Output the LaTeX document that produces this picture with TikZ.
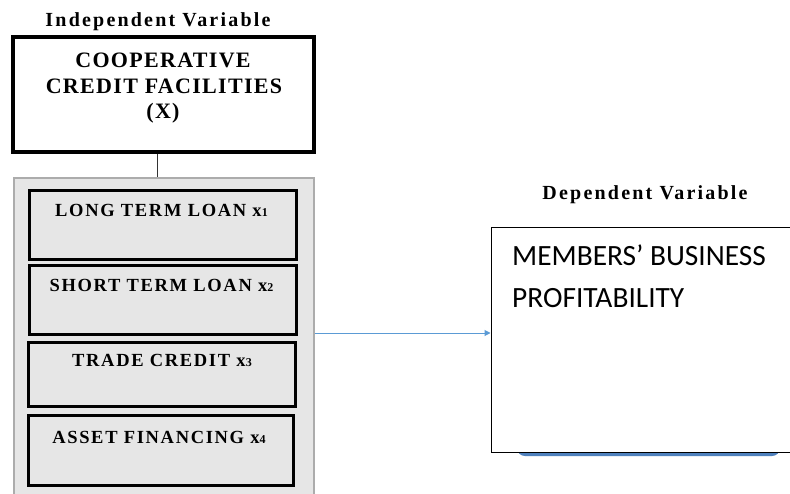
\documentclass[tikz,border=0pt]{standalone}
\usepackage{fontspec}
\setmainfont{Liberation Serif}
\newfontfamily\calib{Carlito}
\newfontfamily\trackA[LetterSpace=11]{Liberation Serif}
\newfontfamily\trackC[LetterSpace=9]{Liberation Serif}
\newfontfamily\trackB[LetterSpace=6]{Liberation Serif}
\usetikzlibrary{arrows.meta}
\definecolor{arrowblue}{HTML}{5B9BD5}
\definecolor{shadowblue}{HTML}{4F81BD}
\definecolor{panelgray}{HTML}{E6E6E6}
\begin{document}
\begin{tikzpicture}[x=1pt,y=-1pt,
  heading/.style={font=\trackA\bfseries\fontsize{20}{23}\selectfont, anchor=base, inner sep=0},
  toptext/.style={font=\trackB\bfseries\fontsize{22}{26}\selectfont, anchor=base, inner sep=0},
  vartext/.style={font=\trackC\bfseries\fontsize{18.5}{21}\selectfont, anchor=base, inner sep=0},
  varbox/.style={draw, line width=3pt, fill=panelgray, inner sep=0, minimum width=267pt},
  depline/.style={font=\calib\fontsize{29.4}{34}\selectfont, anchor=base west, inner sep=0}]
\useasboundingbox (0,0) rectangle (790,493);
\clip (0,0) rectangle (790,493);
\fill[white] (0,0) rectangle (790,493);
\newcommand{\sm}[1]{{\fontsize{12}{12}\selectfont #1}}

% independent side
\node[heading] (indep) at (158,26) {Independent Variable};
\node[draw, line width=3.5pt, inner sep=0, minimum width=301pt, minimum height=115pt] (cx) at (163.5,94.5) {};
\node[toptext] (c1) at (163,67) {COOPERATIVE};
\node[toptext] (c2) at (164,93) {CREDIT FACILITIES};
\node[toptext] (c3) at (163,118) {(X)};

\node[draw=gray!65, line width=2pt, fill=panelgray, inner sep=0, minimum width=300pt, minimum height=322pt] (panel) at (163.5,339) {};
\coordinate (jx) at (157,0);
\draw[line width=1pt, black!80] (cx.south -| jx) -- (panel.north -| jx);

\node[varbox, minimum height=69pt] (b1) at (162.5,224.5) {};
\node[varbox, minimum height=69pt] (b2) at (162.5,299.5) {};
\node[varbox, minimum height=64pt] (b3) at (161.5,374) {};
\node[varbox, minimum height=70pt, minimum width=265pt] (b4) at (160.5,450) {};

\node[vartext] (t1) at (161.5,216) {LONG TERM LOAN x\sm{1}};
\node[vartext] (t2) at (161.5,291) {SHORT TERM LOAN x\sm{2}};
\node[vartext] (t3) at (162,366) {TRADE CREDIT x\sm{3}};
\node[vartext] (t4) at (159,443) {ASSET FINANCING x\sm{4}};

% dependent side
\node[heading] (dep) at (645,199) {Dependent Variable};
\fill[shadowblue, rounded corners=8pt] (517,436) rectangle (780,456);
\node[draw, line width=1pt, fill=white, inner sep=0, minimum width=302pt, minimum height=225pt] (prof) at (642,339.5) {};
\node[depline] (p1) at (512,265) {MEMBERS’ BUSINESS};
\node[depline] (p2) at (512,307) {PROFITABILITY};

\coordinate (ay) at (0,333);
\draw[arrowblue, line width=1pt, -{Triangle[length=6pt,width=6pt]}] (panel.east |- ay) -- (prof.west |- ay);
\end{tikzpicture}
\end{document}
